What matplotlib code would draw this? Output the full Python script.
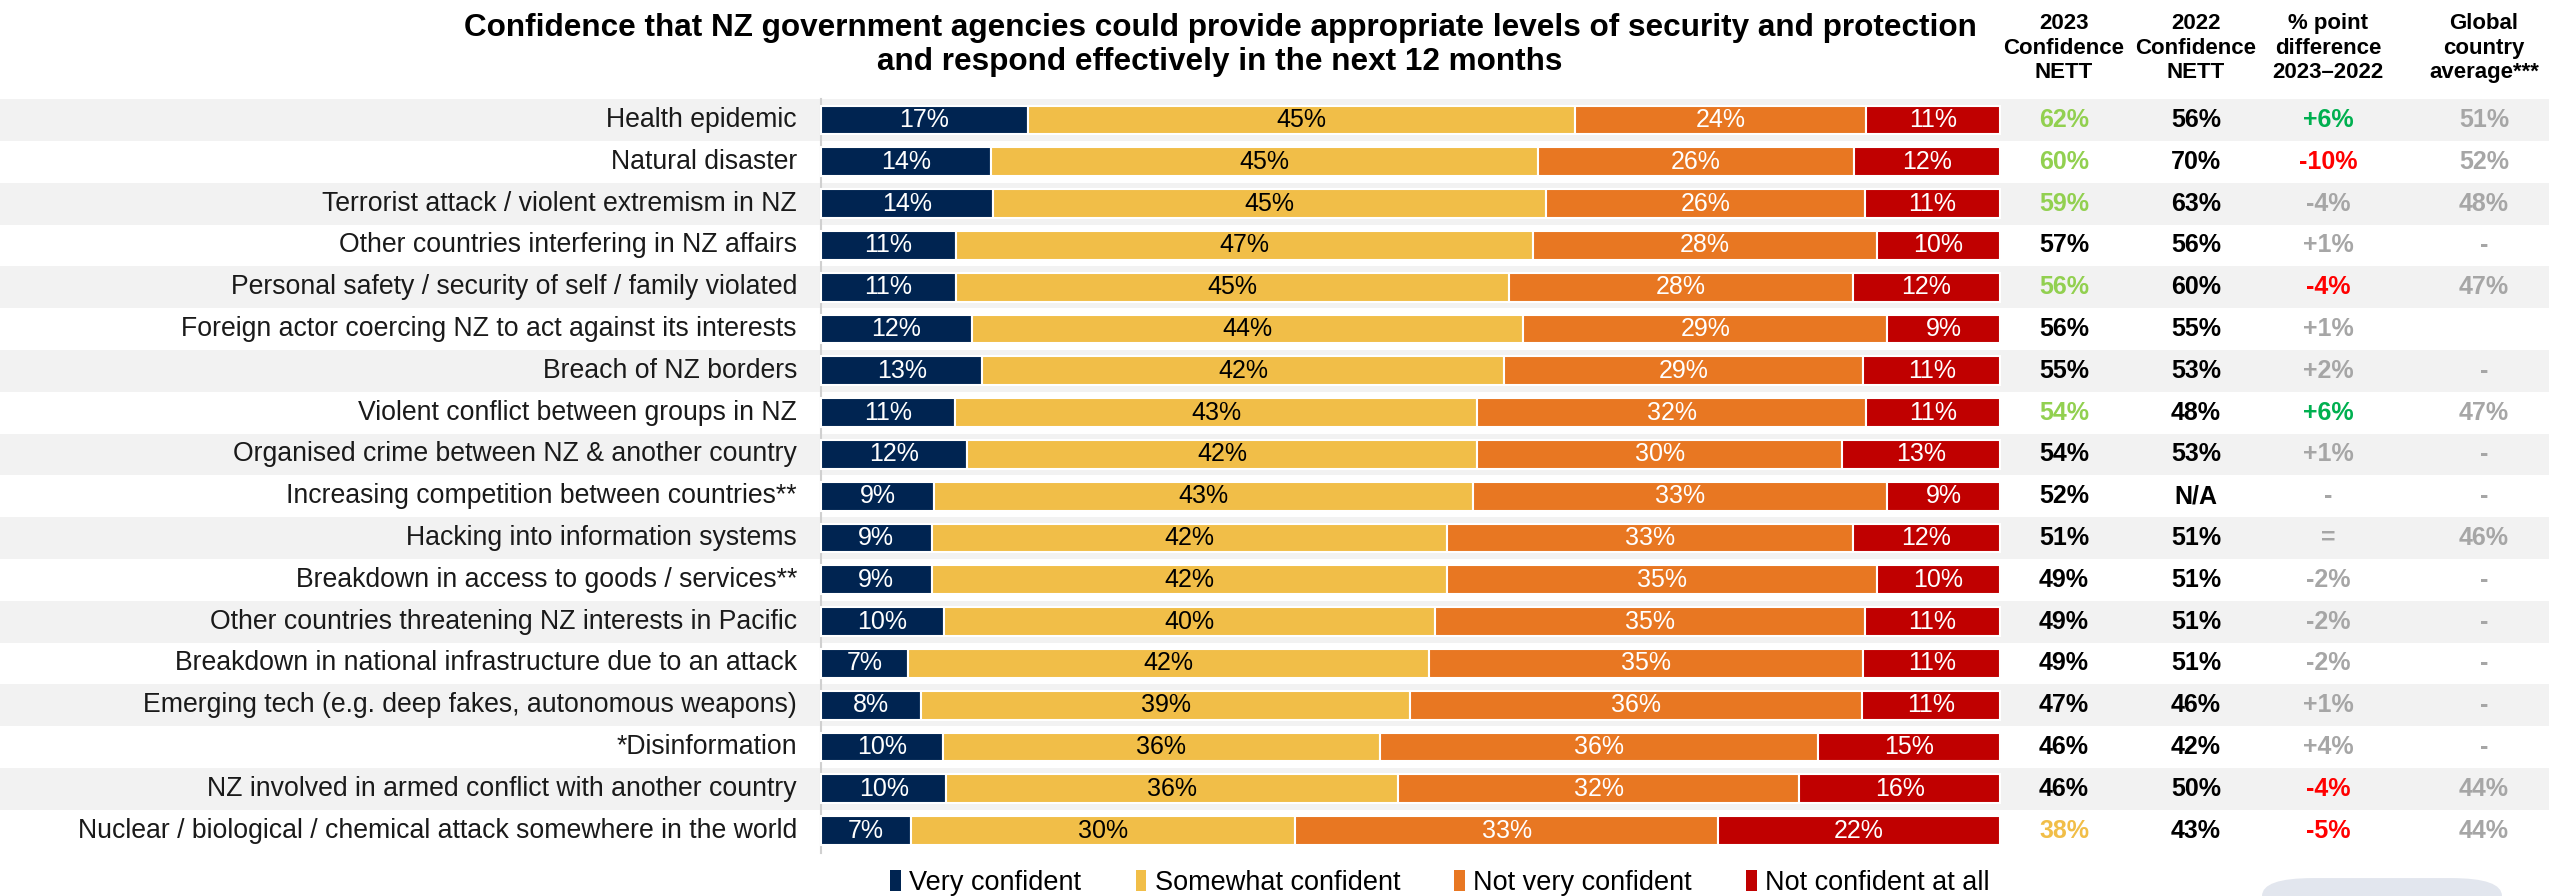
import matplotlib
matplotlib.use("Agg")
import matplotlib.pyplot as plt
import numpy as np
from matplotlib.patches import Patch, FancyBboxPatch

categories = [
    "Health epidemic",
    "Natural disaster",
    "Terrorist attack / violent extremism in NZ",
    "Other countries interfering in NZ affairs",
    "Personal safety / security of self / family violated",
    "Foreign actor coercing NZ to act against its interests",
    "Breach of NZ borders",
    "Violent conflict between groups in NZ",
    "Organised crime between NZ & another country",
    "Increasing competition between countries**",
    "Hacking into information systems",
    "Breakdown in access to goods / services**",
    "Other countries threatening NZ interests in Pacific",
    "Breakdown in national infrastructure due to an attack",
    "Emerging tech (e.g. deep fakes, autonomous weapons)",
    "*Disinformation",
    "NZ involved in armed conflict with another country",
    "Nuclear / biological / chemical attack somewhere in the world",
]
very_confident = [17, 14, 14, 11, 11, 12, 13, 11, 12, 9, 9, 9, 10, 7, 8, 10, 10, 7]
somewhat_confident = [45, 45, 45, 47, 45, 44, 42, 43, 42, 43, 42, 42, 40, 42, 39, 36, 36, 30]
not_very_confident = [24, 26, 26, 28, 28, 29, 29, 32, 30, 33, 33, 35, 35, 35, 36, 36, 32, 33]
not_confident_at_all = [11, 12, 11, 10, 12, 9, 11, 11, 13, 9, 12, 10, 11, 11, 11, 15, 16, 22]
series_names = ["Very confident", "Somewhat confident", "Not very confident", "Not confident at all"]

nett_2023 = ["62%", "60%", "59%", "57%", "56%", "56%", "55%", "54%", "54%", "52%",
             "51%", "49%", "49%", "49%", "47%", "46%", "46%", "38%"]
nett_2023_sig = ["high", "high", "high", "", "high", "", "", "high", "", "",
                 "", "", "", "", "", "", "", "low"]
nett_2022 = ["56%", "70%", "63%", "56%", "60%", "55%", "53%", "48%", "53%", "N/A",
             "51%", "51%", "51%", "51%", "46%", "42%", "50%", "43%"]
point_diff = ["+6%", "-10%", "-4%", "+1%", "-4%", "+1%", "+2%", "+6%", "+1%", "-",
              "=", "-2%", "-2%", "-2%", "+1%", "+4%", "-4%", "-5%"]
point_diff_sig = ["up", "down", "", "", "down", "", "", "up", "", "",
                  "", "", "", "", "", "", "down", "down"]
global_avg = ["51%", "52%", "48%", "-", "47%", "", "-", "47%", "-", "-",
              "46%", "-", "-", "-", "-", "-", "44%", "44%"]
col_headers = ["2023\nConfidence\nNETT", "2022\nConfidence\nNETT",
               "% point\ndifference\n2023\u20132022", "Global\ncountry\naverage***"]
title = ("Confidence that NZ government agencies could provide appropriate levels of security and protection\n"
         "and respond effectively in the next 12 months")

# ---------- styling ----------
NARROW = ["Liberation Sans Narrow", "Liberation Sans", "DejaVu Sans"]
REG = ["Liberation Sans", "DejaVu Sans"]
seg_colors = ["#002451", "#F1BE48", "#E87722", "#C00000"]
seg_text = ["white", "black", "white", "white"]
band_color = "#F2F2F2"

W, H = 2549, 896
fig = plt.figure(figsize=(W / 100, H / 100), dpi=100)
ax = fig.add_axes([0, 0, 1, 1])

# pixel layout mapping
bar_x0, bar_x1 = 821, 2000
ppu_x = (bar_x1 - bar_x0) / 100.0
row0_y, row_step = 120, 41.8
def px_x(p):
    return (p - bar_x0) / ppu_x
def px_y(p):
    return (p - row0_y) / row_step

ax.set_xlim(px_x(0), px_x(W))
ax.set_ylim(px_y(H), px_y(0))
ax.axis("off")

n = len(categories)
y = np.arange(n)
data = np.array([very_confident, somewhat_confident, not_very_confident, not_confident_at_all], dtype=float)
totals = data.sum(axis=0)
norm = data / totals * 100

# alternating bands
for i in range(n):
    if i % 2 == 0:
        ax.axhspan(i - 0.5, i + 0.5, color=band_color, zorder=0, lw=0)

left = np.zeros(n)
for k in range(4):
    ax.barh(y, norm[k], left=left, height=0.69, color=seg_colors[k],
            edgecolor="white", linewidth=1.5, zorder=2)
    for i in range(n):
        ax.text(left[i] + norm[k][i] / 2, y[i], f"{int(data[k][i])}%", ha="center", va="center",
                color=seg_text[k], fontsize=18, family=NARROW, zorder=3)
    left += norm[k]

# axis line
ax.plot([0, 0], [-0.5, px_y(853)], color="#D0D0D0", lw=1.5, zorder=1)

# category labels
for i, c in enumerate(categories):
    ax.text(px_x(797), i, c, ha="right", va="center", fontsize=19.2, family=NARROW, color="#1a1a1a")

# right-hand columns
col_x = [px_x(2064), px_x(2196), px_x(2328), px_x(2484)]
c2023 = {"high": "#92D050", "low": "#F1BE48", "": "black"}
cdiff = {"up": "#00B050", "down": "#FF0000", "": "#A6A6A6"}
vfs = 18
for i in range(n):
    ax.text(col_x[0], i, nett_2023[i], ha="center", va="center", fontsize=vfs, fontweight="bold",
            family=REG, color=c2023[nett_2023_sig[i]])
    ax.text(col_x[1], i, nett_2022[i], ha="center", va="center", fontsize=vfs, fontweight="bold",
            family=REG, color="black")
    ax.text(col_x[2], i, point_diff[i], ha="center", va="center", fontsize=vfs, fontweight="bold",
            family=REG, color=cdiff[point_diff_sig[i]])
    ax.text(col_x[3], i, global_avg[i], ha="center", va="center", fontsize=vfs, fontweight="bold",
            family=REG, color="#A6A6A6")

for j, h in enumerate(col_headers):
    ax.text(col_x[j], px_y(48), h, ha="center", va="center", fontsize=16, fontweight="bold",
            family=REG, color="black", linespacing=1.2)

# title
ax.text(px_x(1220), px_y(45), title, ha="center", va="center", fontsize=22.7, fontweight="bold",
        family=NARROW, color="black", linespacing=1.15)

# decorative rounded box at bottom right
box = FancyBboxPatch((2262 / W, -0.05), 240 / W, 0.07, boxstyle="round,pad=0,rounding_size=0.02",
                     transform=fig.transFigure, facecolor="#E2E6EE", edgecolor="none", zorder=0)
fig.patches.append(box)

# legend
handles = [Patch(facecolor=seg_colors[k], edgecolor="none") for k in range(4)]
fig.legend(handles, series_names, loc="center", bbox_to_anchor=(1440 / W, 1 - 883 / H), ncol=4,
           frameon=False, handlelength=0.4, handleheight=0.8, handletextpad=0.3, columnspacing=2.0,
           prop={"family": NARROW, "size": 19.5})

fig.savefig("out.png", dpi=100)
